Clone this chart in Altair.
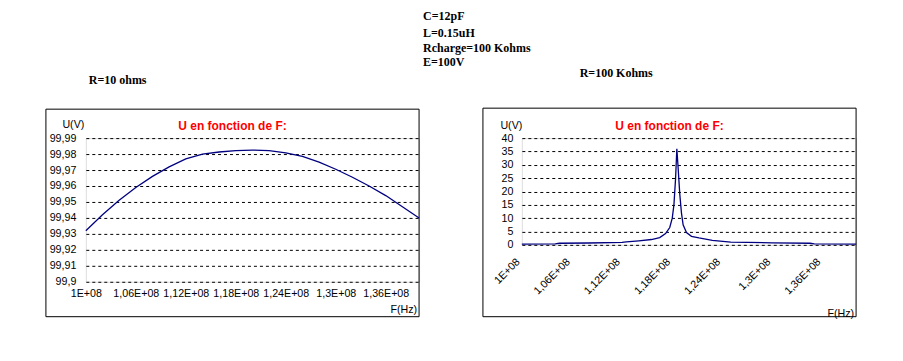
import altair as alt
import pandas as pd

# ---------------- data (frequencies in units of 1E+08 Hz) ----------------
# Left chart: R = 10 ohms
f_left = [1.00, 1.02, 1.04, 1.06, 1.08, 1.10, 1.12, 1.14, 1.16, 1.18, 1.20,
          1.22, 1.24, 1.26, 1.28, 1.30, 1.32, 1.34, 1.36, 1.38, 1.40]
u_left = [99.932, 99.942, 99.951, 99.959, 99.966, 99.972, 99.977, 99.980,
          99.9813, 99.9822, 99.9825, 99.9822, 99.9808, 99.9785, 99.975,
          99.9705, 99.9655, 99.960, 99.954, 99.947, 99.940]

# Right chart: R = 100 Kohms
f_right = [1.000, 1.040, 1.045, 1.080, 1.120, 1.125, 1.140, 1.155, 1.165,
           1.172, 1.177, 1.180, 1.182, 1.184, 1.1855, 1.187, 1.189, 1.191,
           1.193, 1.197, 1.203, 1.212, 1.228, 1.250, 1.300, 1.345, 1.350, 1.400]
u_right = [0.3, 0.4, 0.6, 0.7, 0.9, 1.1, 1.5, 2.0, 2.7,
           4.2, 6.5, 10.0, 15.0, 25.0, 36.0, 29.0, 19.0, 12.0,
           7.5, 4.6, 3.2, 2.6, 1.7, 1.0, 0.75, 0.6, 0.35, 0.3]

x_ticks = [1.00, 1.06, 1.12, 1.18, 1.24, 1.30, 1.36]
y_ticks_left = [99.90, 99.91, 99.92, 99.93, 99.94, 99.95, 99.96, 99.97, 99.98, 99.99]
y_ticks_right = [0, 5, 10, 15, 20, 25, 30, 35, 40]

chart_title = "U en fonction de F:"
y_title = "U(V)"
x_title = "F(Hz)"
params = ["C=12pF", "L=0.15uH", "Rcharge=100 Kohms", "E=100V"]
label_left = "R=10 ohms"
label_right = "R=100 Kohms"

# ---------------- styling ----------------
SANS = "Liberation Sans"
SERIF = "Liberation Serif"
FS = 10.7
LINE = "#000080"
RED = "#ff0000"

one = pd.DataFrame({"k": [0]})
df_left = pd.DataFrame({"F": f_left, "U": u_left})
df_right = pd.DataFrame({"F": f_right, "U": u_right})

x_label_expr = "replace(format(datum.value, '~g'), '.', ',') + 'E+08'"


def txt(s, x, y, font=SANS, size=FS, bold=False, color="black", align="left"):
    return alt.Chart(one).mark_text(
        text=s, font=font, fontSize=size, fontWeight="bold" if bold else "normal",
        color=color, align=align, baseline="middle"
    ).encode(x=alt.value(x), y=alt.value(y))


def box(x1, x2, y1, y2, invisible=False):
    if invisible:
        m = alt.Chart(one).mark_rect(fillOpacity=0, strokeOpacity=0, strokeWidth=0)
    else:
        m = alt.Chart(one).mark_rect(fillOpacity=0, stroke="black", strokeWidth=1)
    return m.encode(x=alt.value(x1), x2=alt.value(x2), y=alt.value(y1), y2=alt.value(y2))


# ---------------- left panel ----------------
WL, HL = 334, 144
line_left = alt.Chart(df_left).mark_line(color=LINE, strokeWidth=1.3).encode(
    x=alt.X("F:Q", scale=alt.Scale(domain=[1.0, 1.4], nice=False, zero=False),
            axis=alt.Axis(values=x_ticks, labelExpr=x_label_expr, grid=False, ticks=False,
                          tickSize=0, domain=False, title=None, labelFont=SANS,
                          labelFontSize=FS, labelColor="black", labelPadding=12,
                          labelBaseline="middle", labelFlush=False, labelOverlap=False)),
    y=alt.Y("U:Q", scale=alt.Scale(domain=[99.9, 99.99], nice=False, zero=False),
            axis=alt.Axis(values=y_ticks_left,
                          labelExpr="replace(format(datum.value, '.2~f'), '.', ',')",
                          grid=True, gridDash=[3, 3], gridColor="black", gridOpacity=1,
                          ticks=False, tickSize=0, domain=False, title=None,
                          labelFont=SANS, labelFontSize=FS, labelColor="black",
                          labelPadding=10, labelFlush=False, labelOverlap=False)),
)

left = alt.layer(
    box(-77, 810, -129, 216, invisible=True),
    box(-40, WL, -29, 179),
    line_left,
    txt(chart_title, 147, -12, bold=True, size=12, color=RED, align="center"),
    txt(y_title, -12.5, -13.5, align="center"),
    txt(x_title, 332, 172, align="right"),
    txt(label_left, 3, -58, font=SERIF, size=12, bold=True),
    *[txt(p, 338, yy, font=SERIF, size=12, bold=True)
      for p, yy in zip(params, [-122, -105.5, -90.5, -76])],
).properties(width=WL, height=HL)

# ---------------- right panel ----------------
WR, HR = 335, 107
line_right = alt.Chart(df_right).mark_line(color=LINE, strokeWidth=1.3).encode(
    x=alt.X("F:Q", scale=alt.Scale(domain=[1.0, 1.4], nice=False, zero=False),
            axis=alt.Axis(values=x_ticks, labelExpr=x_label_expr, grid=False, ticks=False,
                          tickSize=0, domain=False, title=None, labelFont=SANS,
                          labelFontSize=FS, labelColor="black", labelAngle=315,
                          labelAlign="right", labelBaseline="middle", labelPadding=15,
                          labelOffset=-4, labelFlush=False, labelOverlap=False)),
    y=alt.Y("U:Q", scale=alt.Scale(domain=[0, 40], nice=False, zero=False),
            axis=alt.Axis(values=y_ticks_right, grid=True, gridDash=[3, 3],
                          gridColor="black", gridOpacity=1, ticks=False, tickSize=0,
                          domain=False, title=None, labelFont=SANS, labelFontSize=FS,
                          labelColor="black", labelPadding=9, labelFlush=False,
                          labelOverlap=False)),
)

right = alt.layer(
    box(-39, WR, -30, 179),
    line_right,
    txt(chart_title, 148, -12, bold=True, size=12, color=RED, align="center"),
    txt(y_title, -10.5, -12, align="center"),
    txt(x_title, 333, 176, align="right"),
    txt(label_right, 58, -65, font=SERIF, size=12, bold=True),
).properties(width=WR, height=HR)

chart = alt.hconcat(left, right, spacing=103, bounds="flush", padding=0).configure_view(
    stroke="black", strokeWidth=1
).configure(background="white")

chart.save("out.html", embed_options={"renderer": "svg", "actions": False})
